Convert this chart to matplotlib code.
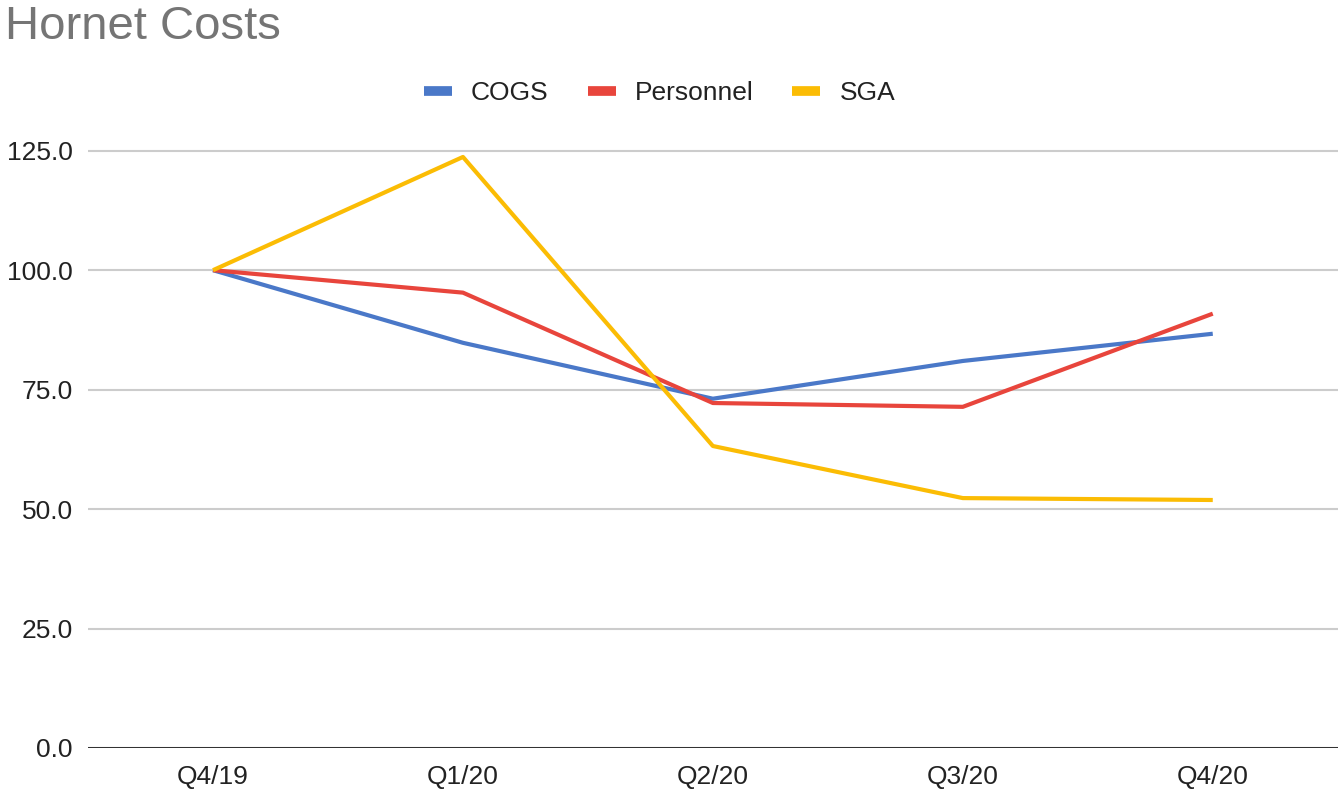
import matplotlib.pyplot as plt

plt.rcParams['font.family'] = ['Liberation Sans', 'DejaVu Sans']

# Chart data (index, Q4/19 = 100)
quarters = ['Q4/19', 'Q1/20', 'Q2/20', 'Q3/20', 'Q4/20']
cogs = [100.0, 84.8, 73.1, 81.0, 86.7]
personnel = [100.0, 95.3, 72.2, 71.4, 90.9]
sga = [100.0, 123.7, 63.2, 52.3, 51.9]
yticks = [0, 25, 50, 75, 100, 125]

fig = plt.figure(figsize=(13.38, 7.89), dpi=100)
ax = fig.add_axes([0.0658, 0.052, 0.934, 0.763])

x = range(len(quarters))
ax.plot(x, cogs, color='#4a78c8', linewidth=3, label='COGS', solid_capstyle='butt')
ax.plot(x, personnel, color='#e8453c', linewidth=3, label='Personnel', solid_capstyle='butt')
ax.plot(x, sga, color='#fbbc04', linewidth=3, label='SGA', solid_capstyle='butt')

ax.set_xlim(-0.5, len(quarters) - 0.5)
ax.set_ylim(0, 126)
ax.set_yticks(yticks)
ax.set_yticklabels([f'{v:.1f}' for v in yticks])
ax.set_xticks(list(x))
ax.set_xticklabels(quarters)

# grid and axis line
for v in yticks[1:]:
    ax.axhline(v, color='#cccccc', linewidth=1.5, zorder=0)
ax.axhline(0, color='#333333', linewidth=2.2, zorder=1)

for s in ax.spines.values():
    s.set_visible(False)
ax.tick_params(axis='both', length=0, labelsize=19, colors='#222222')
ax.tick_params(axis='y', pad=11)
ax.tick_params(axis='x', pad=12)

fig.text(0.004, 0.966, 'Hornet Costs', fontsize=34, color='#757575', ha='left', va='center')

leg = fig.legend(loc='center', bbox_to_anchor=(0.493, 0.882), ncol=3, frameon=False,
                 fontsize=19, handlelength=1.06, handletextpad=0.72, columnspacing=1.48)
for t in leg.get_texts():
    t.set_color('#222222')
for h in leg.legend_handles:
    h.set_linewidth(7)

plt.savefig('out.png', dpi=100)
